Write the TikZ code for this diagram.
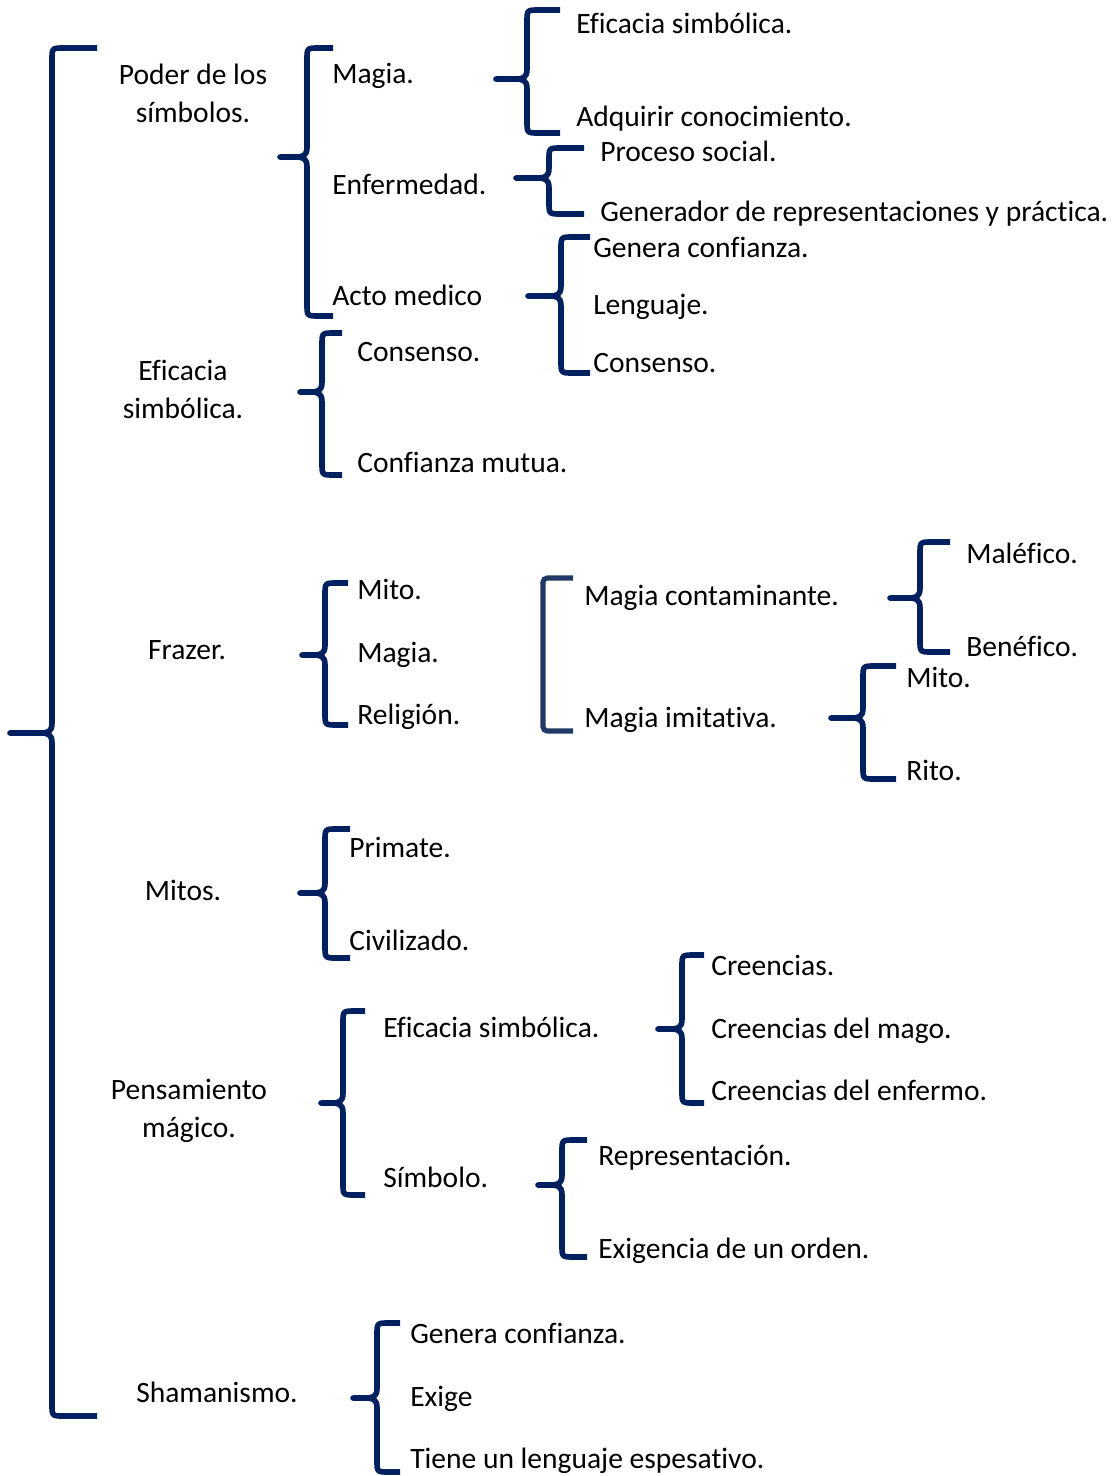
\documentclass[tikz,border=0pt]{standalone}
\usepackage{fontspec}
\setmainfont{Carlito}[Ligatures=NoCommon]
\usepackage{xcolor}
\definecolor{azul}{HTML}{002060}
\definecolor{pizarra}{HTML}{203864}
% llave: x, arriba, medio, abajo, punta, brazo
\newcommand{\llave}[6]{%
  \draw[llv] (#6,#2) -- ({#1+12},#2) .. controls (#1,#2) .. (#1,{#2+12}) -- (#1,{#3-10})
    .. controls (#1,{#3-1}) and ({#1-4},#3) .. ({#1-12},#3) -- (#5,#3) -- ({#1-12},#3)
    .. controls ({#1-4},#3) and (#1,{#3+1}) .. (#1,{#3+10}) -- (#1,{#4-12}) .. controls (#1,#4) .. ({#1+12},#4) -- (#6,#4);}

\begin{document}
\begin{tikzpicture}[x=0.025cm,y=-0.025cm,
  llv/.style={azul,line width=4pt,line join=round},
  txt/.style={anchor=base west,inner sep=0pt,font=\fontsize{21}{27}\selectfont},
  ctr/.style={align=center,inner sep=0pt,font=\fontsize{21}{27}\selectfont}]
\useasboundingbox (0,0) rectangle (1113,1476);

% llaves
\llave{52}{48}{733}{1416}{10}{97}
\llave{307}{48}{157}{316}{280}{333}
\llave{527}{10}{79}{133}{496}{560}
\llave{549}{148}{178}{214}{516}{584}
\llave{561}{237}{296}{373}{528}{590}
\llave{322}{333}{392}{475}{300}{342}
\llave{325}{583}{655}{725}{302}{348}
\draw [pizarra,line width=3.6pt,rounded corners=3pt] (573,578) -- (543,578) -- (543,731) -- (573,731);
\llave{920}{542}{598}{652}{890}{950}
\llave{863}{666}{718}{779}{831}{896}
\llave{325}{829}{893}{958}{300}{350}
\llave{343}{1011}{1103}{1195}{321}{365}
\llave{682}{955}{1029}{1103}{658}{704}
\llave{562}{1140}{1185}{1257}{538}{587}
\llave{377}{1323}{1398}{1472}{353}{400}

% poder de los simbolos
\node[ctr] (poder) at (193,93) {Poder de los\\símbolos.};
\node[txt] (magia) at (332,83) {Magia.};
\node[txt] (enfer) at (332,194) {Enfermedad.};
\node[txt] (acto) at (332,305) {Acto medico};
\node[txt] (efsim) at (576,33) {Eficacia simbólica.};
\node[txt] (adqu) at (576,126) {Adquirir conocimiento.};
\node[txt] (proc) at (600,161) {Proceso social.};
\node[txt] (gener) at (600,221) {Generador de representaciones y práctica.};
\node[txt] (genconf) at (593,257) {Genera confianza.};
\node[txt] (leng) at (593,314) {Lenguaje.};
\node[txt] (cons) at (593,372) {Consenso.};

% eficacia simbolica
\node[ctr] (eficacia) at (183,389) {Eficacia\\simbólica.};
\node[txt] (consb) at (357,361) {Consenso.};
\node[txt] (confmut) at (357,472) {Confianza mutua.};

% frazer
\node[ctr] (frazer) at (187,650) {Frazer.};
\node[txt] (mito) at (357,599) {Mito.};
\node[txt] (magiab) at (357,662) {Magia.};
\node[txt] (relig) at (357,724) {Religión.};
\node[txt] (magcont) at (584,605) {Magia contaminante.};
\node[txt] (magimit) at (584,727) {Magia imitativa.};
\node[txt] (malef) at (966,563) {Maléfico.};
\node[txt] (benef) at (966,656) {Benéfico.};
\node[txt] (mitob) at (906,687) {Mito.};
\node[txt] (rito) at (906,780) {Rito.};

% mitos
\node[ctr] (mitos) at (183,890) {Mitos.};
\node[txt] (primate) at (349,857) {Primate.};
\node[txt] (civil) at (349,950) {Civilizado.};

% pensamiento magico
\node[ctr] (pensam) at (189,1111) {Pensamiento\\mágico.};
\node[txt] (efsimb) at (383,1037) {Eficacia simbólica.};
\node[txt] (simbolo) at (383,1187) {Símbolo.};
\node[txt] (creen) at (711,975) {Creencias.};
\node[txt] (creenmago) at (711,1038) {Creencias del mago.};
\node[txt] (creenenf) at (711,1100) {Creencias del enfermo.};
\node[txt] (repre) at (598,1165) {Representación.};
\node[txt] (exig) at (598,1258) {Exigencia de un orden.};

% shamanismo
\node[ctr] (shaman) at (217,1392) {Shamanismo.};
\node[txt] (genconfb) at (410,1343) {Genera confianza.};
\node[txt] (exige) at (410,1406) {Exige};
\node[txt] (tiene) at (410,1468) {Tiene un lenguaje espesativo.};
\end{tikzpicture}
\end{document}
